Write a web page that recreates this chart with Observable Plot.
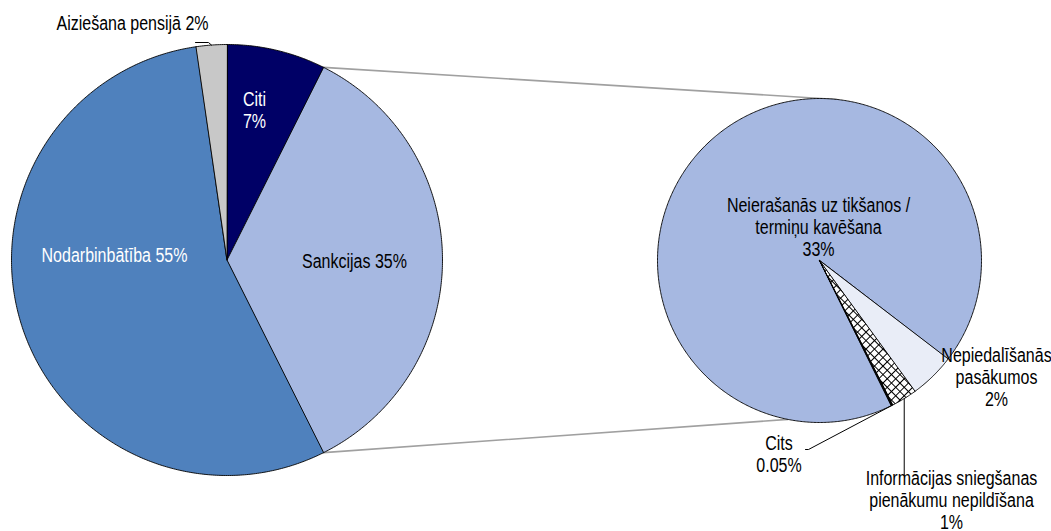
<!DOCTYPE html>
<html><head><meta charset="utf-8">
<script src="https://cdn.jsdelivr.net/npm/d3@7"></script>
<script src="https://cdn.jsdelivr.net/npm/@observablehq/plot@0.6"></script>
<style>body{margin:0;background:#fff}#chart{width:1051px;height:531px}</style>
</head><body><div id="chart"></div>
<script>
// ---- data ----
const mainCategories = ["Citi", "Sankcijas", "Nodarbinbātība", "Aiziešana pensijā"];
const mainValues = [7.4, 35.2, 55.1, 2.3];
const mainLabels = ["Citi\n7%", "Sankcijas 35%", "Nodarbinbātība 55%", "Aiziešana pensijā 2%"];
const subCategories = ["Neierašanās uz tikšanos / termiņu kavēšana", "Nepiedalīšanās pasākumos", "Informācijas sniegšanas pienākumu nepildīšana", "Cits"];
const subValues = [32.5, 1.6, 0.9, 0.05];
const subLabels = ["Neierašanās uz tikšanos /\ntermiņu kavēšana\n33%", "Nepiedalīšanās\npasākumos\n2%", "Informācijas sniegšanas\npienākumu nepildīšana\n1%", "Cits\n0.05%"];
const splitCategory = "Sankcijas";

// ---- styles / layout ----
const W = 1051, H = 531;
const FONT = "'Liberation Sans', Arial, sans-serif";
const TEXT_SCALE_X = 0.8; // narrow (Arial Narrow-like) rendering
const mainColors = ["#000066", "#A6B8E1", "#4F81BD", "#C8C8C8"];
const subColors = ["#A6B8E1", "#E9EDF7", "url(#crosshatch)", "#000000"];
const mainTextColors = ["#ffffff", "#000000", "#ffffff", "#000000"];
const subTextColors = ["#000000", "#000000", "#000000", "#000000"];
const mainPie = {cx: 226.5, cy: 259.5, r: 215.5, start: 0};
const subPie = {cx: 819, cy: 260, r: 162, start: 153.6};
const mainLabelOffsets = [[27.5, -150], [127.5, 0.5], [-112.5, -5.5], [-94.5, -237.5]];
const subLabelOffsets = [[-1, -34], [177, 116.5], [132, 239], [-40.5, 193.5]];
// leader elbows relative to pie centre (null = none)
const mainLeaders = [null, null, null, [[-18.5, -217.5], [-31.5, -217.5]]];
const subLeaders = [null, null, "vertical:215", [[-11, 189], [-14, 189]]];
const connectorAngles = [6.3, 191.2];

function slices(values, pie) {
  const total = d3.sum(values);
  let a = pie.start;
  return values.map((v, i) => { const a0 = a; const a1 = a + v / total * 360; a = a1; return {i, a0, a1, mid: (a0 + a1) / 2}; });
}
function pt(pie, deg, rf = 1) {
  const t = deg * Math.PI / 180;
  return [pie.cx + rf * pie.r * Math.sin(t), pie.cy - rf * pie.r * Math.cos(t)];
}
function polygon(pie, s, key, fill) {
  const pts = [{key, fill, x: pie.cx, y: pie.cy}];
  const n = Math.max(2, Math.ceil((s.a1 - s.a0) / 0.5));
  for (let k = 0; k <= n; k++) {
    const [x, y] = pt(pie, s.a0 + (s.a1 - s.a0) * k / n);
    pts.push({key, fill, x, y});
  }
  return pts;
}

const mainSlices = slices(mainValues, mainPie);
const subSlices = slices(subValues, subPie);

const slicePts = [];
mainSlices.forEach((s, i) => slicePts.push(...polygon(mainPie, s, "m" + i, mainColors[i])));
subSlices.forEach((s, i) => slicePts.push(...polygon(subPie, s, "s" + i, subColors[i])));

const labels = [];
mainSlices.forEach((s, i) => labels.push({x: mainPie.cx + mainLabelOffsets[i][0], y: mainPie.cy + mainLabelOffsets[i][1], text: mainLabels[i], color: mainTextColors[i]}));
subSlices.forEach((s, i) => labels.push({x: subPie.cx + subLabelOffsets[i][0], y: subPie.cy + subLabelOffsets[i][1], text: subLabels[i], color: subTextColors[i]}));

const leaderPts = [];
function addLeader(pie, s, spec, key) {
  if (!spec) return;
  const [x0, y0] = pt(pie, s.mid);
  leaderPts.push({key, x: x0, y: y0});
  if (typeof spec === "string") {
    const dy = +spec.split(":")[1];
    leaderPts.push({key, x: x0, y: pie.cy + dy});
  } else {
    spec.forEach(([dx, dy]) => leaderPts.push({key, x: pie.cx + dx, y: pie.cy + dy}));
  }
}
mainSlices.forEach((s, i) => addLeader(mainPie, s, mainLeaders[i], "lm" + i));
subSlices.forEach((s, i) => addLeader(subPie, s, subLeaders[i], "ls" + i));

const split = mainSlices[mainCategories.indexOf(splitCategory)];
const connPts = [];
[split.a0, split.a1].forEach((a, k) => {
  const [x0, y0] = pt(mainPie, a);
  const [x1, y1] = pt(subPie, connectorAngles[k]);
  connPts.push({key: "c" + k, x: x0, y: y0}, {key: "c" + k, x: x1, y: y1});
});

const plot = Plot.plot({
  width: W, height: H,
  margin: 0,
  x: {domain: [0, W], range: [0, W], axis: null},
  y: {domain: [0, H], range: [0, H], axis: null},
  color: {type: "identity"},
  style: {background: "#fff", fontFamily: FONT},
  marks: [
    Plot.line(connPts, {x: "x", y: "y", z: "key", stroke: "#A0A0A0", strokeWidth: 1.6}),
    Plot.line(slicePts, {x: "x", y: "y", z: "key", fill: "fill", stroke: "#000", strokeWidth: 0.9, curve: "linear-closed", strokeLinejoin: "round"}),
    Plot.line(leaderPts, {x: "x", y: "y", z: "key", stroke: "#000", strokeWidth: 1}),
    Plot.text(labels, {x: "x", y: "y", text: "text", fill: "color", fontSize: 20, lineHeight: 1.1, fontFamily: FONT})
  ]
});

const svg = d3.select(plot);
const defs = svg.insert("defs", ":first-child");
const pat = defs.append("pattern").attr("id", "crosshatch").attr("patternUnits", "userSpaceOnUse")
  .attr("width", 6).attr("height", 6).attr("patternTransform", "rotate(45)");
pat.append("rect").attr("width", 6).attr("height", 6).attr("fill", "#fff");
pat.append("path").attr("d", "M0,0.5H6M0.5,0V6").attr("stroke", "#000").attr("stroke-width", 1);

// condense label glyphs horizontally around each anchor
svg.selectAll("g[aria-label='text'] text").each(function () {
  const el = d3.select(this);
  const tr = el.attr("transform");
  if (tr) {
    el.attr("transform", tr + ` scale(${TEXT_SCALE_X},1)`);
  } else {
    const x = +el.attr("x") || 0, y = +el.attr("y") || 0;
    el.attr("x", null).attr("y", null).attr("transform", `translate(${x},${y}) scale(${TEXT_SCALE_X},1)`);
  }
});
document.getElementById("chart").appendChild(plot);
</script>
</body></html>
